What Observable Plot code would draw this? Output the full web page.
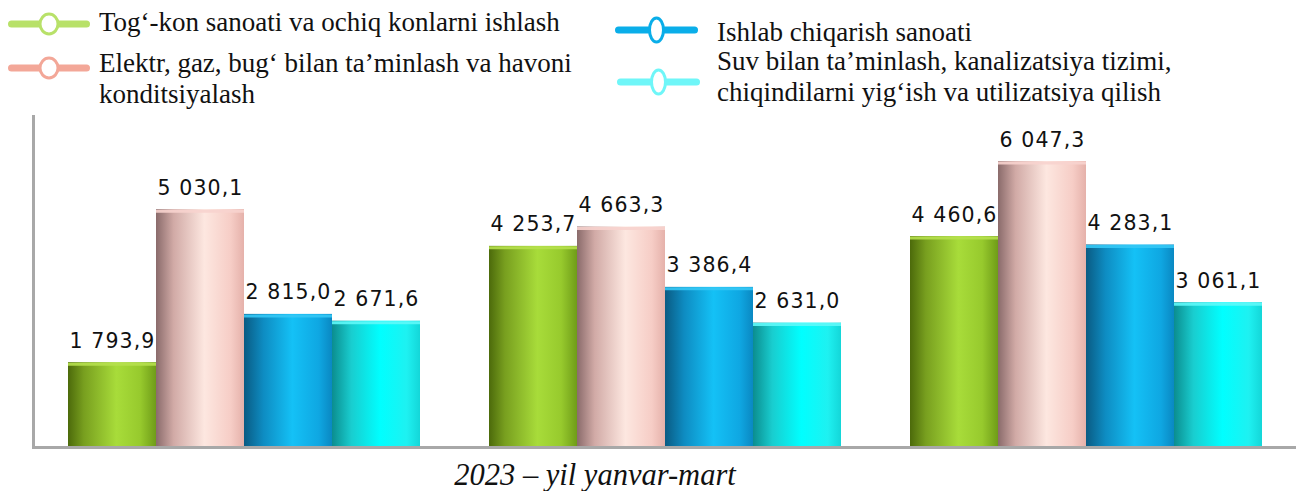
<!DOCTYPE html>
<html><head><meta charset="utf-8">
<script src="https://cdn.jsdelivr.net/npm/d3@7"></script>
<script src="https://cdn.jsdelivr.net/npm/@observablehq/plot@0.6"></script>
<style>
body{margin:0;background:#fff;}
#wrap{position:relative;width:1296px;height:491px;overflow:hidden;background:#fff;}
.leg{position:absolute;font-family:"Liberation Serif","Times New Roman",serif !important;font-size:27px;line-height:31px;color:#111;white-space:pre;}
.sym{position:absolute;overflow:visible;}
#chart{position:absolute;left:0;top:108px;}
#chart svg text{letter-spacing:1.1px;}
#cap{position:absolute;left:0;width:1190px;top:460px;text-align:center;font-family:"Liberation Serif","Times New Roman",serif;font-style:italic;font-size:30.5px;line-height:30px;color:#111;}
</style></head>
<body>
<div id="wrap">
  <div id="legend"></div>
  <div id="chart"></div>
  <div id="cap"></div>
</div>
<script>
// ---- data ----
const groups = ["I", "II", "III"];
const seriesNames = [
  "Tog‘-kon sanoati va ochiq konlarni ishlash",
  "Elektr, gaz, bug‘ bilan ta’minlash va havoni\nkonditsiyalash",
  "Ishlab chiqarish sanoati",
  "Suv bilan ta’minlash, kanalizatsiya tizimi,\nchiqindilarni yig‘ish va utilizatsiya qilish"
];
const miningValues = [1793.9, 4253.7, 4460.6];
const energyValues = [5030.1, 4663.3, 6047.3];
const manufacturingValues = [2815.0, 3386.4, 4283.1];
const waterValues = [2671.6, 2631.0, 3061.1];
const captionText = "2023 – yil yanvar-mart";

// ---- styles ----
const legendColors = ["#b8e169", "#f3a798", "#0aaee9", "#6ff6f8"];
const capColors = ["#b6e04e", "#f7d3ce", "#35c8f5", "#5ff8f8"];
const gradientStops = [
  [["0%","#4c6a0b"],["18%","#789f1f"],["55%","#a8dc3a"],["82%","#97ca2d"],["100%","#6f9c18"]],
  [["0%","#8a6b6b"],["20%","#d1aaa6"],["55%","#fde7e0"],["85%","#f6cdc6"],["100%","#e5b1aa"]],
  [["0%","#0a5b83"],["22%","#0e8cc2"],["55%","#14c1f6"],["85%","#0fa7e2"],["100%","#0a88c2"]],
  [["0%","#0b8d8f"],["22%","#19cdcf"],["55%","#00ffff"],["85%","#1ef1f1"],["100%","#14d6d8"]]
];
const legendPos = [
  {sx:8, sy:24, sw:82, rx:9, ry:10, tx:99, ty:7},
  {sx:8, sy:68, sw:82, rx:9, ry:10, tx:99, ty:48},
  {sx:615, sy:30, sw:83, rx:7, ry:12, tx:717, ty:17},
  {sx:617, sy:82, sw:83, rx:7, ry:12, tx:717, ty:46}
];

const seriesValues = [miningValues, energyValues, manufacturingValues, waterValues];
const rows = groups.flatMap((g, i) => seriesNames.map((s, j) => ({group: g, series: s, value: seriesValues[j][i], k: j})));
const fmt = d3.formatLocale({decimal: ",", thousands: "\u00a0", grouping: [3]}).format(",.1f");

// ---- legend ----
const legend = document.getElementById("legend");
seriesNames.forEach((name, i) => {
  const p = legendPos[i];
  const ns = "http://www.w3.org/2000/svg";
  const s = document.createElementNS(ns, "svg");
  s.setAttribute("class", "sym");
  s.setAttribute("width", p.sw + 10);
  s.setAttribute("height", 30);
  s.style.left = (p.sx - 5) + "px";
  s.style.top = (p.sy - 15) + "px";
  const line = document.createElementNS(ns, "line");
  line.setAttribute("x1", 5 + 3.5); line.setAttribute("x2", 5 + p.sw - 3.5);
  line.setAttribute("y1", 15); line.setAttribute("y2", 15);
  line.setAttribute("stroke", legendColors[i]); line.setAttribute("stroke-width", 7);
  line.setAttribute("stroke-linecap", "round");
  s.appendChild(line);
  const el = document.createElementNS(ns, "ellipse");
  el.setAttribute("cx", 5 + p.sw / 2); el.setAttribute("cy", 15);
  el.setAttribute("rx", p.rx); el.setAttribute("ry", p.ry);
  el.setAttribute("fill", "#fff"); el.setAttribute("stroke", legendColors[i]); el.setAttribute("stroke-width", 3);
  s.appendChild(el);
  legend.appendChild(s);
  const t = document.createElement("div");
  t.className = "leg";
  t.style.left = p.tx + "px";
  t.style.top = p.ty + "px";
  t.textContent = name;
  legend.appendChild(t);
});

// ---- chart ----
const chart = Plot.plot({
  width: 1296, height: 350,
  marginLeft: 32, marginRight: 0, marginTop: 8, marginBottom: 11,
  fx: {domain: groups, padding: 0, axis: null},
  x: {domain: seriesNames, paddingInner: 0, paddingOuter: 0.372, axis: null},
  y: {domain: [0, 7000], axis: null},
  color: {domain: seriesNames, range: seriesNames.map((_, i) => `url(#grad${i})`)},
  marks: [
    Plot.barY(rows, {fx: "group", x: "series", y: "value", fill: "series", inset: 0}),
    Plot.tickY(rows, {fx: "group", x: "series", y: "value", stroke: d => capColors[d.k], strokeWidth: 3, dy: 1.5, strokeOpacity: 0.9}),
    Plot.text(rows, {fx: "group", x: "series", y: "value", text: d => fmt(d.value),
      lineAnchor: "bottom", dy: -15, fontSize: 20.5, fontFamily: "DejaVu Sans", fill: "#111"}),
    Plot.ruleY([0], {stroke: "#a8a8a8", strokeWidth: 3}),
    Plot.frame({anchor: "left", facetAnchor: "left", stroke: "#a8a8a8", strokeWidth: 3})
  ]
});

// gradients
const ns = "http://www.w3.org/2000/svg";
const defs = document.createElementNS(ns, "defs");
gradientStops.forEach((stops, i) => {
  const lg = document.createElementNS(ns, "linearGradient");
  lg.setAttribute("id", `grad${i}`);
  lg.setAttribute("x1", "0"); lg.setAttribute("x2", "1"); lg.setAttribute("y1", "0"); lg.setAttribute("y2", "0");
  stops.forEach(([o, c]) => {
    const st = document.createElementNS(ns, "stop");
    st.setAttribute("offset", o); st.setAttribute("stop-color", c);
    lg.appendChild(st);
  });
  defs.appendChild(lg);
});
chart.insertBefore(defs, chart.firstChild);
document.getElementById("chart").appendChild(chart);
document.getElementById("cap").textContent = captionText;
</script>
</body></html>
